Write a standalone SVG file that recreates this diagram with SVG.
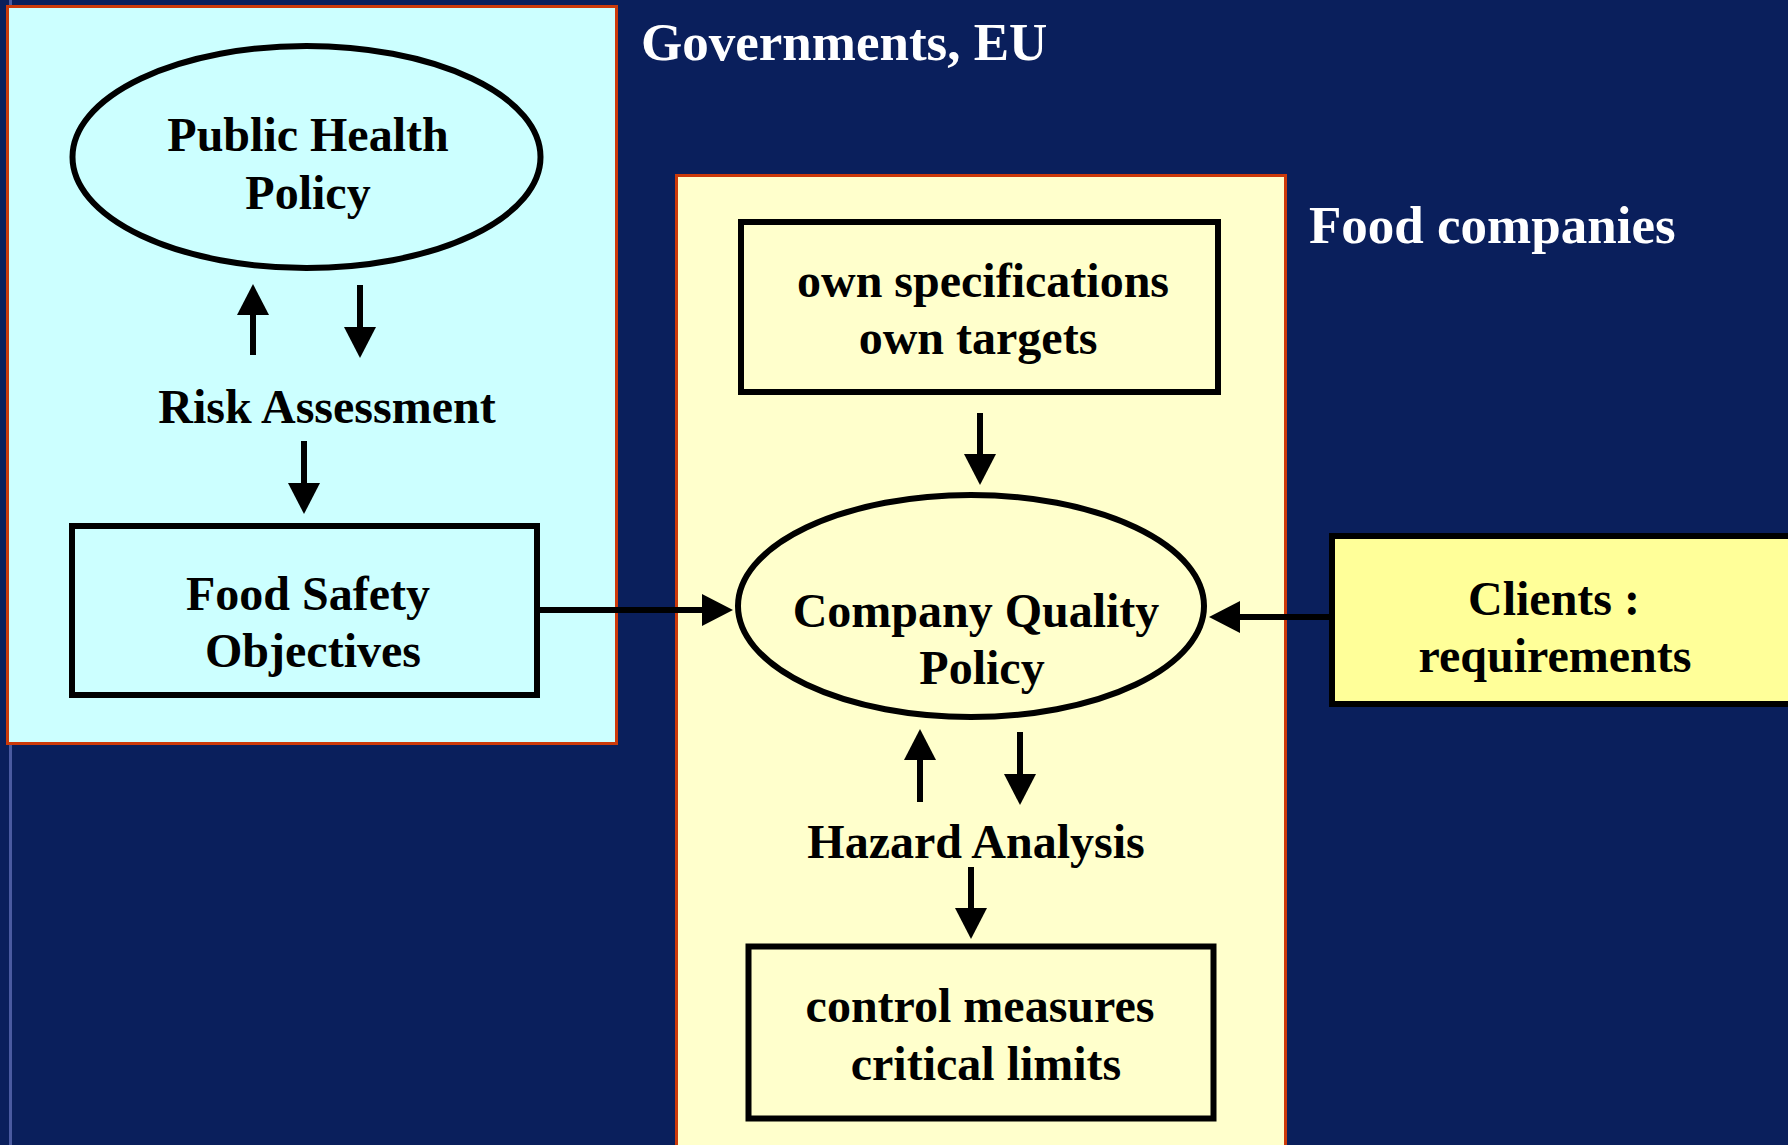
<svg xmlns="http://www.w3.org/2000/svg" width="1788" height="1145" viewBox="0 0 1788 1145">
  <defs>
    <style>
      .panel { stroke: #CC3A0A; stroke-width: 3; }
      .node { stroke: #000; stroke-width: 6; }
      .lbl { font-family: "Liberation Serif", "Times New Roman", serif; font-weight: bold; font-size: 48px; fill: #000; text-anchor: middle; }
      .title { font-family: "Liberation Serif", "Times New Roman", serif; font-weight: bold; font-size: 53px; fill: #fff; }
      .conn { stroke: #000; stroke-width: 6; fill: none; marker-end: url(#head); }
    </style>
    <marker id="head" markerUnits="userSpaceOnUse" markerWidth="32" markerHeight="32" viewBox="0 0 32 32" refX="1" refY="16" orient="auto">
      <path d="M0,0 L31,16 L0,32 z" fill="#000"/>
    </marker>
  </defs>

  <!-- background -->
  <rect x="0" y="0" width="1788" height="1145" fill="#0A1F5C"/>
  <rect x="9" y="0" width="3" height="1145" fill="#4A5AA0"/>

  <!-- regulator panel -->
  <g id="panel-governments">
    <rect class="panel" x="7.5" y="6.5" width="609" height="737" fill="#CCFFFF"/>
    <text class="title" x="641" y="60">Governments, EU</text>
  </g>

  <!-- company panel -->
  <g id="panel-companies">
    <rect class="panel" x="676.5" y="175.5" width="609" height="1000" fill="#FFFFCC"/>
    <text class="title" x="1309" y="243">Food companies</text>
  </g>

  <g id="public-health-policy">
    <ellipse class="node" cx="306.5" cy="157" rx="234" ry="111" fill="#CCFFFF"/>
    <text class="lbl" x="308" y="151">Public Health</text>
    <text class="lbl" x="308" y="209">Policy</text>
  </g>

  <g id="risk-assessment">
    <text class="lbl" x="327" y="423">Risk Assessment</text>
  </g>

  <g id="food-safety-objectives">
    <rect class="node" x="72" y="526" width="465" height="169" fill="#CCFFFF"/>
    <text class="lbl" x="308" y="610">Food Safety</text>
    <text class="lbl" x="313" y="667">Objectives</text>
  </g>

  <g id="own-specifications">
    <rect class="node" x="741" y="222" width="477" height="170" fill="#FFFFCC"/>
    <text class="lbl" x="983" y="297">own specifications</text>
    <text class="lbl" x="978" y="354">own targets</text>
  </g>

  <g id="company-quality-policy">
    <ellipse class="node" cx="971" cy="606" rx="233" ry="111" fill="#FFFFCC"/>
    <text class="lbl" x="976" y="627">Company Quality</text>
    <text class="lbl" x="982" y="684">Policy</text>
  </g>

  <g id="hazard-analysis">
    <text class="lbl" x="976" y="858">Hazard Analysis</text>
  </g>

  <g id="control-measures">
    <rect class="node" x="748.5" y="946.5" width="465" height="172" fill="#FFFFCC"/>
    <text class="lbl" x="980" y="1022">control measures</text>
    <text class="lbl" x="986" y="1080">critical limits</text>
  </g>

  <g id="clients">
    <rect class="node" x="1332" y="536" width="480" height="168" fill="#FFFF99"/>
    <text class="lbl" x="1554" y="615">Clients :</text>
    <text class="lbl" x="1555" y="672">requirements</text>
  </g>

  <!-- connectors -->
  <g id="connectors">
    <line class="conn" x1="253" y1="355" x2="253" y2="314"/>
    <line class="conn" x1="360" y1="285" x2="360" y2="328"/>
    <line class="conn" x1="304" y1="441" x2="304" y2="484"/>
    <line class="conn" x1="540" y1="610" x2="703" y2="610"/>
    <line class="conn" x1="1329" y1="617" x2="1239" y2="617"/>
    <line class="conn" x1="980" y1="413" x2="980" y2="455"/>
    <line class="conn" x1="920" y1="802" x2="920" y2="759"/>
    <line class="conn" x1="1020" y1="732" x2="1020" y2="775"/>
    <line class="conn" x1="971" y1="867" x2="971" y2="909"/>
  </g>
</svg>
